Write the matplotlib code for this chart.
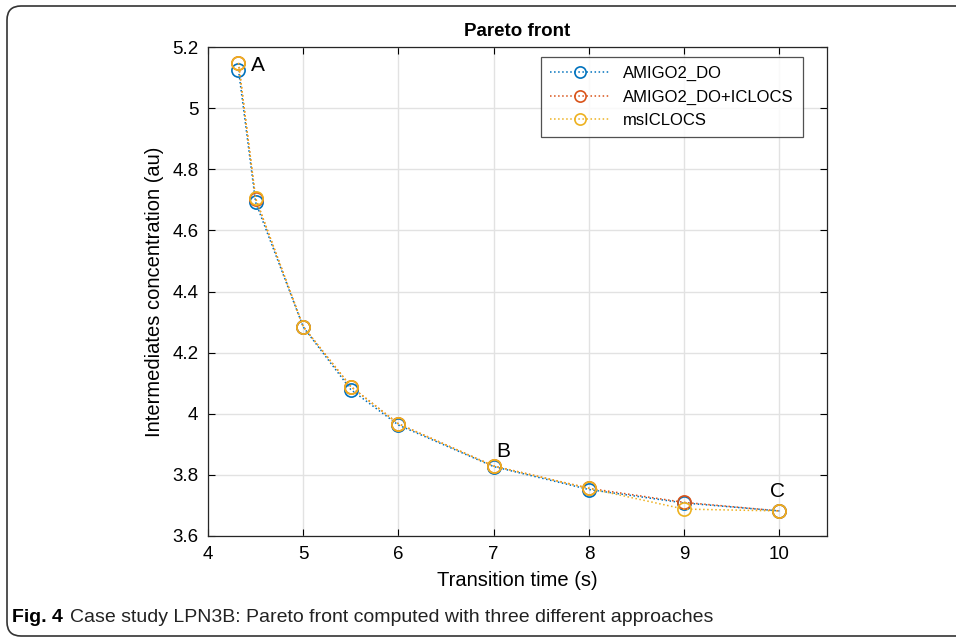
import numpy as np
import matplotlib.pyplot as plt
from matplotlib.patches import PathPatch
from matplotlib.path import Path
from matplotlib.ticker import FuncFormatter

plt.rcParams['font.family'] = ['Liberation Sans', 'DejaVu Sans']

# transition time (s) and intermediates concentration (au) per approach
time_s = [4.32, 4.5, 5, 5.5, 6, 7, 8, 9, 10]
amigo2_do = [5.125, 4.692, 4.284, 4.079, 3.963, 3.827, 3.752, 3.708, 3.682]
amigo2_do_iclocs = [5.148, 4.704, 4.285, 4.089, 3.967, 3.829, 3.756, 3.710, 3.682]
msiclocs = [5.148, 4.705, 4.285, 4.089, 3.967, 3.829, 3.756, 3.688, 3.682]

labels = ['AMIGO2_DO', 'AMIGO2_DO+ICLOCS', 'msICLOCS']
colors = ['#0072BD', '#D95319', '#EDB120']

fig = plt.figure(figsize=(9.56, 6.38), dpi=100)
W, H = 956, 638
ax = fig.add_axes([208 / W, 1 - 536 / H, (827 - 208) / W, (536 - 47) / H])

for yv, lab, c in zip([amigo2_do, amigo2_do_iclocs, msiclocs], labels, colors):
    ax.plot(time_s, yv, ls=':', lw=1.1, color=c, marker='o', ms=9.5,
            mfc='none', mec=c, mew=1.2, label=lab)

ax.set_xlim(4, 10.5)
ax.set_ylim(3.6, 5.2)
ax.set_xticks(np.arange(4, 11, 1))
ax.set_yticks(np.arange(3.6, 5.21, 0.2))
ax.yaxis.set_major_formatter(FuncFormatter(lambda v, p: f'{v:.1f}' if abs(v - round(v)) > 1e-9 else f'{int(round(v))}'))
ax.grid(True, color='#e2e2e2', lw=1)
ax.set_axisbelow(True)
ax.tick_params(direction='in', top=True, right=True, labelsize=13.5, length=5, width=0.8, pad=7)
for s in ax.spines.values():
    s.set_linewidth(0.9)
    s.set_color('#262626')

ax.set_title('Pareto front', fontsize=13.5, fontweight='bold', pad=8)
ax.set_xlabel('Transition time (s)', fontsize=14.5, labelpad=6)
ax.set_ylabel('Intermediates concentration (au)', fontsize=14.5, labelpad=6)

ax.text(4.45, 5.14, 'A', fontsize=15, va='center')
ax.text(7.03, 3.875, 'B', fontsize=15, va='center')
ax.text(9.9, 3.745, 'C', fontsize=15, va='center')

leg = ax.legend(loc='upper right', bbox_to_anchor=(0.961, 0.98), borderaxespad=0,
                fontsize=12, frameon=True, fancybox=False, edgecolor='#262626',
                handlelength=3.6, markerscale=0.85, borderpad=0.55, labelspacing=0.5,
                handletextpad=0.8)
leg.get_frame().set_linewidth(0.9)

# caption
fig.text(12 / W, 1 - 617 / H, 'Fig. 4', fontsize=14, fontweight='bold', va='center')
fig.text(70 / W, 1 - 617 / H, 'Case study LPN3B: Pareto front computed with three different approaches',
         fontsize=14, va='center', color='#222222')

# panel frame: open on the right, rounded on the left (pixel coords)
r = 14
verts = [(1200, 632), (7 + r, 632), (7, 632), (7, 632 - r), (7, 2 + r), (7, 2), (7 + r, 2), (1200, 2)]
codes = [Path.MOVETO, Path.LINETO, Path.CURVE3, Path.CURVE3, Path.LINETO,
         Path.CURVE3, Path.CURVE3, Path.LINETO]
frame = PathPatch(Path(verts, codes), transform=None, fill=False, lw=1.2, ec='#333333')
fig.patches.append(frame)

fig.savefig('out.png', dpi=100)
